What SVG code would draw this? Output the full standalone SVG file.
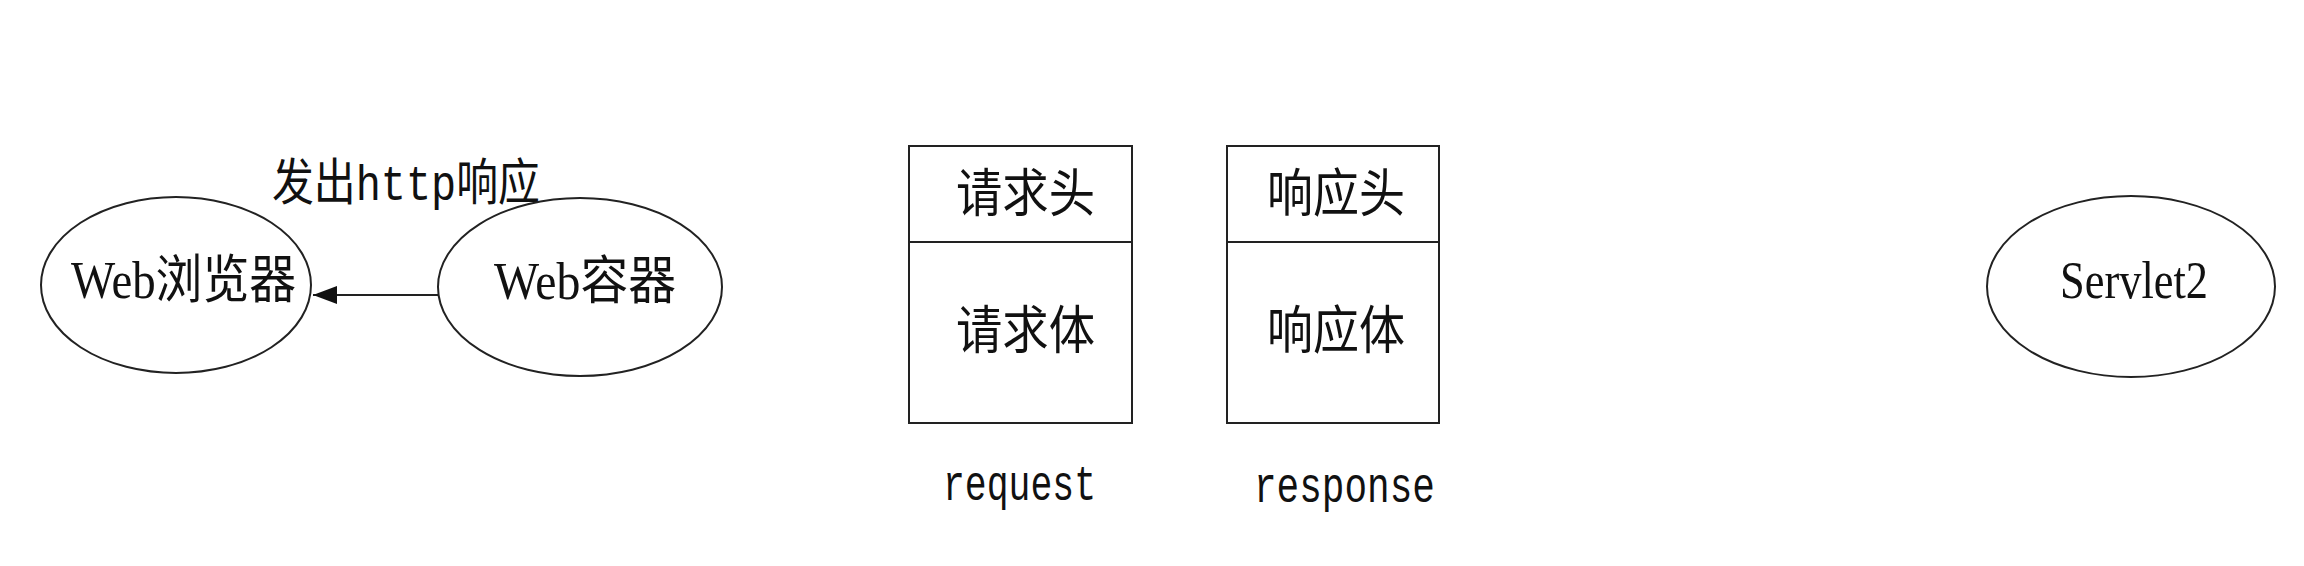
<svg xmlns="http://www.w3.org/2000/svg" width="2304" height="566" viewBox="0 0 2304 566">
<style>
.shape{fill:#fff;stroke:#222;stroke-width:2}
.cjk{font-family:"Liberation Serif","Noto Sans CJK SC",serif;font-size:52px;fill:#111}
.mono{font-family:"Liberation Mono","Noto Sans CJK SC",monospace;font-size:50px;fill:#111}
.edge{stroke:#222;stroke-width:2;fill:none}
</style>
<defs>
<marker id="arr" markerUnits="userSpaceOnUse" markerWidth="26" markerHeight="20" refX="24" refY="9" orient="auto">
<path d="M0,0 L24,9 L0,18 Z" fill="#111"/>
</marker>
</defs>
<rect width="2304" height="566" fill="#fff"/>
<g id="connectors">
<line class="edge" x1="439" y1="295" x2="313" y2="295" marker-end="url(#arr)"/>
<text class="mono" x="272" y="200" font-size="52" textLength="268" lengthAdjust="spacingAndGlyphs">发出http响应</text>
</g>
<g id="browser">
<ellipse class="shape" cx="176" cy="285" rx="135" ry="88"/>
<text class="cjk" x="71" y="298" textLength="225" lengthAdjust="spacingAndGlyphs">Web浏览器</text>
</g>
<g id="container">
<ellipse class="shape" cx="580" cy="287" rx="142" ry="89"/>
<text class="cjk" x="494" y="299" textLength="182" lengthAdjust="spacingAndGlyphs">Web容器</text>
</g>
<g id="request">
<rect class="shape" x="909" y="146" width="223" height="277"/>
<line class="edge" x1="909" y1="242" x2="1132" y2="242"/>
<text class="cjk" x="956" y="212" textLength="139" lengthAdjust="spacingAndGlyphs">请求头</text>
<text class="cjk" x="956" y="349" textLength="139" lengthAdjust="spacingAndGlyphs">请求体</text>
<text class="mono" x="943" y="500" textLength="153" lengthAdjust="spacingAndGlyphs">request</text>
</g>
<g id="response">
<rect class="shape" x="1227" y="146" width="212" height="277"/>
<line class="edge" x1="1227" y1="242" x2="1439" y2="242"/>
<text class="cjk" x="1267" y="212" textLength="138" lengthAdjust="spacingAndGlyphs">响应头</text>
<text class="cjk" x="1267" y="349" textLength="138" lengthAdjust="spacingAndGlyphs">响应体</text>
<text class="mono" x="1254" y="502" textLength="181" lengthAdjust="spacingAndGlyphs">response</text>
</g>
<g id="servlet2">
<ellipse class="shape" cx="2131" cy="286.5" rx="144" ry="90.5"/>
<text class="cjk" x="2060" y="298" font-size="53" textLength="148" lengthAdjust="spacingAndGlyphs">Servlet2</text>
</g>
</svg>
